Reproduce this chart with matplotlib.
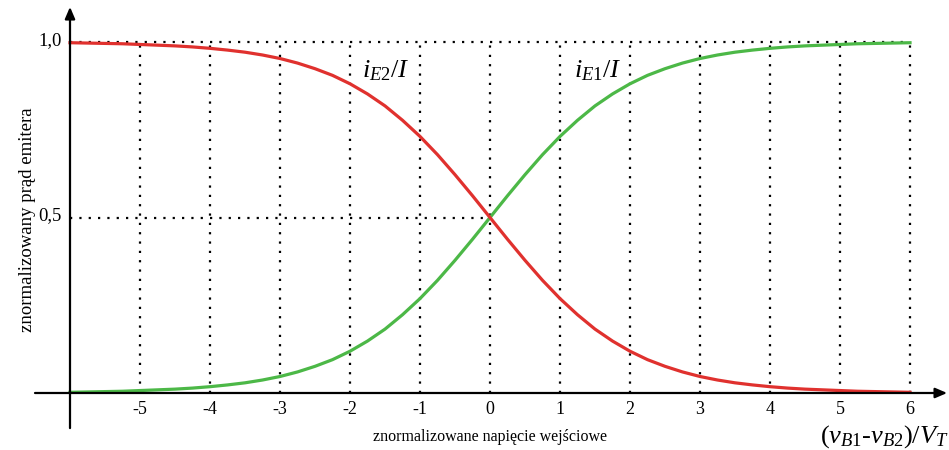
import numpy as np
import matplotlib
matplotlib.use("Agg")
import matplotlib.pyplot as plt

plt.rcParams['font.family'] = ['Liberation Serif', 'DejaVu Serif']
plt.rcParams['mathtext.fontset'] = 'custom'
plt.rcParams['mathtext.rm'] = 'Liberation Serif'
plt.rcParams['mathtext.it'] = 'Liberation Serif:italic'

# ---- data ----
x_vals = np.linspace(-6, 6, 49)
i_e1 = [0.002, 0.003, 0.004, 0.005, 0.007, 0.009, 0.011, 0.014, 0.018, 0.023,
        0.029, 0.037, 0.047, 0.060, 0.076, 0.095, 0.119, 0.148, 0.182, 0.223,
        0.269, 0.321, 0.378, 0.438, 0.500, 0.562, 0.622, 0.679, 0.731, 0.777,
        0.818, 0.852, 0.881, 0.905, 0.924, 0.940, 0.953, 0.963, 0.971, 0.977,
        0.982, 0.986, 0.989, 0.991, 0.993, 0.995, 0.996, 0.997, 0.998]
i_e2 = i_e1[::-1]
x_ticks = [-5, -4, -3, -2, -1, 0, 1, 2, 3, 4, 5, 6]
x_tick_labels = ['-5', '-4', '-3', '-2', '-1', '0', '1', '2', '3', '4', '5', '6']
y_ticks = [0.5, 1.0]
y_tick_labels = ['0,5', '1,0']

fig = plt.figure(figsize=(9.49, 4.5), dpi=100)
ax = fig.add_axes([0, 0, 1, 1])
ax.set_xlim(-7.0, 6.557)
ax.set_ylim(-0.1624, 1.1197)
ax.axis('off')

dot = dict(color='black', lw=1.6, linestyle=(0, (1, 3.2)), dash_capstyle='butt', zorder=1)
# vertical dotted grid
for xt in x_ticks:
    ax.plot([xt, xt], [0, 1.0], **dot)
# horizontal dotted lines
ax.plot([-6, 6], [1.0, 1.0], **dot)
ax.plot([-6, 0], [0.5, 0.5], **dot)

# curves
ax.plot(x_vals, i_e1, color='#4cb847', lw=2.3, zorder=3)
ax.plot(x_vals, i_e2, color='#e0312e', lw=2.3, zorder=3)

# axes with arrows
ax.annotate('', xy=(6.53, 0), xytext=(-6.5, 0),
            arrowprops=dict(arrowstyle='-|>,head_length=0.7,head_width=0.3',
                            lw=1.6, color='black', shrinkA=0, shrinkB=0), zorder=4)
ax.annotate('', xy=(-6, 1.10), xytext=(-6, -0.1),
            arrowprops=dict(arrowstyle='-|>,head_length=0.7,head_width=0.3',
                            lw=1.6, color='black', shrinkA=0, shrinkB=0), zorder=4)

# tick labels
for xt, lab in zip(x_ticks, x_tick_labels):
    ax.text(xt, -0.046, lab, ha='center', va='center', fontsize=13)
for yt, lab in zip(y_ticks, y_tick_labels):
    ax.text(-6.12, yt + 0.005, lab, ha='right', va='center', fontsize=13.5)

# axis titles
ax.text(0, -0.125, 'znormalizowane napięcie wejściowe', ha='center', va='center', fontsize=11.5)
ax.text(-6.61, 0.495, 'znormalizowany prąd emitera', ha='center', va='center',
        rotation=90, fontsize=13.5)
ax.text(6.55, -0.125, r'$(v_{\mathit{B1}}$-$v_{\mathit{B2}})/V_T$', ha='right', va='center', fontsize=19)

# curve labels
ax.text(-1.83, 0.918, r'$i_{\mathit{E2}}/I$', ha='left', va='center', fontsize=19)
ax.text(1.2, 0.918, r'$i_{\mathit{E1}}/I$', ha='left', va='center', fontsize=19)

fig.savefig('out.png', dpi=100)
